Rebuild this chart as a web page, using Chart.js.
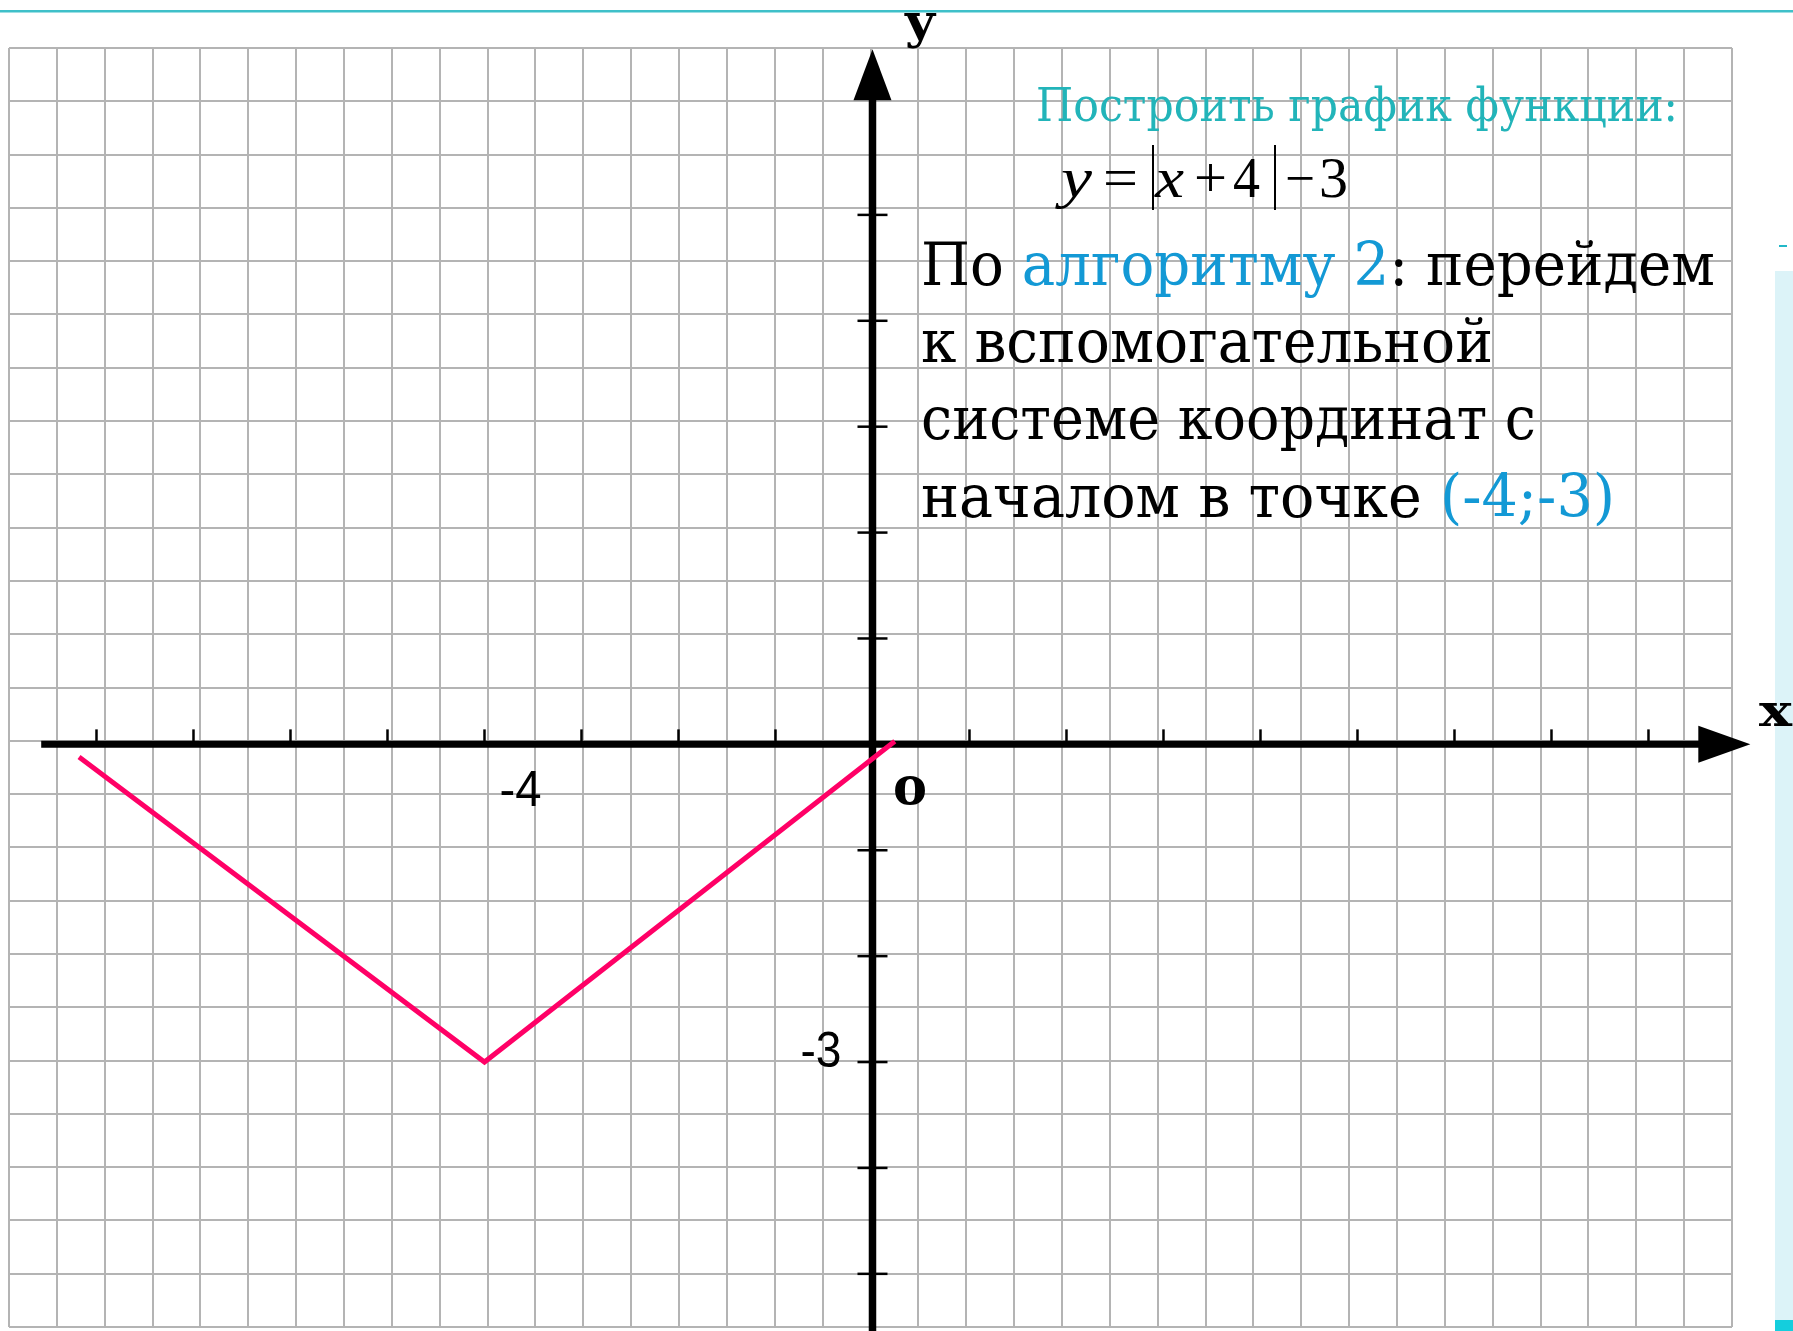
<!DOCTYPE html>
<html>
<head>
<meta charset="utf-8">
<script src="https://cdn.jsdelivr.net/npm/chart.js@4.4.1/dist/chart.umd.min.js"></script>
<style>
html,body{margin:0;padding:0;background:#fff;overflow:hidden}
#wrap{position:relative;width:1793px;height:1331px}
</style>
</head>
<body>
<div id="wrap"><canvas id="c"></canvas></div>
<script>
// ---- data ----
const curveX = [-8.18, -4, 0.23];
const curveY = [-0.12, -3, 0.03];
const xTickValues = [-8, -7, -6, -5, -4, -3, -2, -1, 1, 2, 3, 4, 5, 6, 7, 8];
const yTickValues = [5, 4, 3, 2, 1, -1, -2, -3, -4, -5];
const xLabelValues = [-4];
const xLabelTexts = ['-4'];
const yLabelValues = [-3];
const yLabelTexts = ['-3'];
const xAxisRange = [-8.57, 9.05];
const yAxisRange = [-5.55, 6.564];
const titleText = 'Построить график функции:';
const line1 = [['По ', 'k'], ['алгоритму 2', 'b'], [': перейдем', 'k']];
const line2 = [['к вспомогательной', 'k']];
const line3 = [['системе координат с', 'k']];
const line4 = [['началом в точке ', 'k'], ['(-4;-3)', 'b']];

const COLORS = { k: '#000000', b: '#1399d5' };

function drawFit(ctx, segs, x, base, targetW, font) {
  ctx.font = font;
  ctx.textAlign = 'left';
  ctx.textBaseline = 'alphabetic';
  let total = 0;
  for (const s of segs) total += ctx.measureText(s[0]).width;
  const k = targetW / total;
  ctx.save();
  ctx.translate(x, base);
  ctx.scale(k, 1);
  let cx = 0;
  for (const s of segs) {
    ctx.fillStyle = COLORS[s[1]] || s[1];
    ctx.fillText(s[0], cx, 0);
    cx += ctx.measureText(s[0]).width;
  }
  ctx.restore();
}

const decoPlugin = {
  id: 'deco',
  beforeDraw(chart) {
    const ctx = chart.ctx;
    ctx.save();
    // right side panel
    ctx.fillStyle = '#dcf3f8';
    ctx.fillRect(1775, 271, 18, 1060);
    ctx.fillStyle = '#14cedd';
    ctx.fillRect(1775, 1320, 18, 11);
    ctx.fillStyle = '#22b8c8';
    ctx.fillRect(1779, 245, 8, 2);
    ctx.restore();
  },
  beforeDatasetsDraw(chart) {
    const ctx = chart.ctx, xs = chart.scales.x, ys = chart.scales.y;
    const x0 = xs.getPixelForValue(0), y0 = ys.getPixelForValue(0);
    ctx.save();
    ctx.fillStyle = '#000';
    ctx.strokeStyle = '#000';
    ctx.lineCap = 'butt';
    // x axis
    const xa1 = xs.getPixelForValue(xAxisRange[0]);
    const xa2 = xs.getPixelForValue(xAxisRange[1]);
    ctx.lineWidth = 7;
    ctx.beginPath(); ctx.moveTo(xa1, y0); ctx.lineTo(xa2 - 48, y0); ctx.stroke();
    ctx.beginPath(); ctx.moveTo(xa2, y0); ctx.lineTo(xa2 - 52, y0 - 18.5); ctx.lineTo(xa2 - 52, y0 + 18.5); ctx.closePath(); ctx.fill();
    // y axis
    const ya1 = ys.getPixelForValue(yAxisRange[0]);
    const ya2 = ys.getPixelForValue(yAxisRange[1]);
    ctx.lineWidth = 7.5;
    ctx.beginPath(); ctx.moveTo(x0, ya1); ctx.lineTo(x0, ya2 + 48); ctx.stroke();
    ctx.beginPath(); ctx.moveTo(x0, ya2); ctx.lineTo(x0 - 19, ya2 + 51); ctx.lineTo(x0 + 19, ya2 + 51); ctx.closePath(); ctx.fill();
    // ticks
    ctx.lineWidth = 2.5;
    for (const v of xTickValues) {
      const px = xs.getPixelForValue(v);
      ctx.beginPath(); ctx.moveTo(px, y0); ctx.lineTo(px, y0 - 15); ctx.stroke();
    }
    for (const v of yTickValues) {
      const py = ys.getPixelForValue(v);
      ctx.beginPath(); ctx.moveTo(x0 - 15, py); ctx.lineTo(x0 + 15, py); ctx.stroke();
    }
    ctx.restore();
  },
  afterDatasetsDraw(chart) {
    const ctx = chart.ctx, xs = chart.scales.x, ys = chart.scales.y;
    const x0 = xs.getPixelForValue(0), y0 = ys.getPixelForValue(0);
    ctx.save();
    // tick labels
    xLabelValues.forEach((v, i) => {
      const px = xs.getPixelForValue(v);
      drawFit(ctx, [[xLabelTexts[i], '#000']], px + 15, y0 + 62, 42, '50px "Liberation Sans", sans-serif');
    });
    yLabelValues.forEach((v, i) => {
      const py = ys.getPixelForValue(v);
      drawFit(ctx, [[yLabelTexts[i], '#000']], x0 - 72, py + 5, 41, '50px "Liberation Sans", sans-serif');
    });
    // origin / axis names
    drawFit(ctx, [['o', '#000']], x0 + 20.5, y0 + 60, 34, 'bold 53px "DejaVu Serif", serif');
    drawFit(ctx, [['x', '#000']], 1759, 726, 33, 'bold 45px "DejaVu Serif", serif');
    drawFit(ctx, [['y', '#000']], 905, 38, 30, 'bold 48px "DejaVu Serif", serif');

    // title
    drawFit(ctx, [[titleText, '#22b4b9']], 1036, 121, 642, '46px "DejaVu Serif", serif');

    // formula  y = |x + 4| - 3
    const fF = '56px "Liberation Serif", serif';
    const fI = 'italic 56px "Liberation Serif", serif';
    const fb = 197;
    drawFit(ctx, [['y', '#000']], 1061, fb, 31, fI);
    drawFit(ctx, [['=', '#000']], 1103, fb, 35, fF);
    drawFit(ctx, [['x', '#000']], 1155, fb, 29, fI);
    drawFit(ctx, [['+', '#000']], 1194, fb, 33, fF);
    drawFit(ctx, [['4', '#000']], 1233, fb, 27, fF);
    drawFit(ctx, [['\u2212', '#000']], 1285, fb, 30, fF);
    drawFit(ctx, [['3', '#000']], 1319, fb, 29, fF);
    ctx.strokeStyle = '#000';
    ctx.lineWidth = 2;
    ctx.beginPath(); ctx.moveTo(1153, 145); ctx.lineTo(1153, 210); ctx.stroke();
    ctx.beginPath(); ctx.moveTo(1275, 145); ctx.lineTo(1275, 210); ctx.stroke();

    // explanation text
    const mf = '60px "DejaVu Serif", serif';
    drawFit(ctx, line1, 921, 285, 794, mf);
    drawFit(ctx, line2, 921, 362, 572, mf);
    drawFit(ctx, line3, 921, 439, 615, mf);
    drawFit(ctx, line4, 921, 517, 694, mf);
    ctx.restore();
  },
  afterDraw(chart) {
    const ctx = chart.ctx;
    ctx.save();
    // top teal rule
    ctx.fillStyle = '#3fc0c9';
    ctx.fillRect(0, 10, 1793, 2.5);
    ctx.restore();
  }
};

const gridStyle = { color: '#b4b4b4', lineWidth: 2, drawTicks: false, tickLength: 0 };

new Chart(document.getElementById('c'), {
  type: 'line',
  data: {
    datasets: [{
      data: curveX.map((x, i) => ({ x: x, y: curveY[i] })),
      xAxisID: 'x',
      yAxisID: 'y',
      borderColor: '#ff0066',
      borderWidth: 5,
      pointRadius: 0,
      fill: false,
      tension: 0,
      borderCapStyle: 'butt',
      borderJoinStyle: 'miter'
    }]
  },
  options: {
    responsive: true,
    maintainAspectRatio: false,
    animation: false,
    events: [],
    layout: { padding: { left: 9, right: 61, top: 48, bottom: 4 } },
    plugins: { legend: { display: false }, tooltip: { enabled: false }, title: { display: false } },
    scales: {
      gx: { type: 'linear', axis: 'x', position: 'bottom', min: 0, max: 36,
            ticks: { display: false, stepSize: 1, autoSkip: false },
            grid: gridStyle, border: { display: false } },
      gy: { type: 'linear', axis: 'y', position: 'left', min: 0, max: 24,
            ticks: { display: false, stepSize: 1, autoSkip: false },
            grid: gridStyle, border: { display: false } },
      x: { type: 'linear', position: 'bottom', min: -8.902, max: 8.861,
           ticks: { display: false }, grid: { display: false, drawTicks: false }, border: { display: false } },
      y: { type: 'linear', position: 'left', min: -5.502, max: 6.576,
           ticks: { display: false }, grid: { display: false, drawTicks: false }, border: { display: false } }
    }
  },
  plugins: [decoPlugin]
});
</script>
</body>
</html>
